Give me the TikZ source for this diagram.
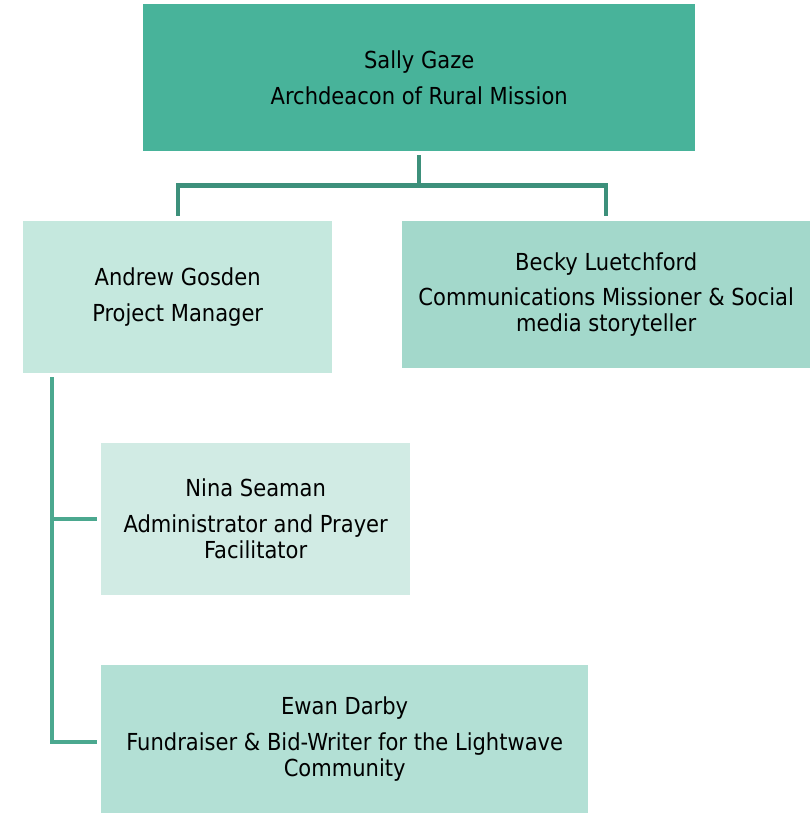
\documentclass[tikz,border=0pt]{standalone}
\usepackage{fontspec}
\setmainfont{DejaVu Sans Condensed}
\usepackage{tikz}
\usepackage{xcolor}
\definecolor{leadteal}{HTML}{48B39A}
\definecolor{mintpale}{HTML}{C5E8DE}
\definecolor{mintmid}{HTML}{A3D8CB}
\definecolor{mintlight}{HTML}{D1EBE4}
\definecolor{mintsoft}{HTML}{B3E0D5}
\definecolor{linkdark}{HTML}{3D907B}
\definecolor{linklight}{HTML}{4BA88F}

\begin{document}
\begin{tikzpicture}[x=1pt, y=-1pt,
  every node/.style = {shape=rectangle, anchor=north west, inner sep=0pt,
    align=center, font=\fontsize{23.4}{26}\selectfont},
  link/.style = {line width=4.2pt, color=linkdark},
  sublink/.style = {line width=4.2pt, color=linklight}]
  \useasboundingbox (0,0) rectangle (810,814);
  \node[fill=leadteal, minimum width=552pt, minimum height=147pt] (sally) at (143,4)
    {Sally Gaze \\[10pt] Archdeacon of Rural Mission};
  \node[fill=mintpale, minimum width=309pt, minimum height=152pt] (andrew) at (23,221)
    {Andrew Gosden \\[10pt] Project Manager};
  \node[fill=mintmid, minimum width=408pt, minimum height=147pt] (becky) at (402,221)
    {Becky Luetchford \\[9pt] Communications Missioner \& Social \\ media storyteller};
  \node[fill=mintlight, minimum width=309pt, minimum height=152pt] (nina) at (101,443)
    {Nina Seaman \\[10pt] Administrator and Prayer \\ Facilitator};
  \node[fill=mintsoft, minimum width=487pt, minimum height=148pt] (ewan) at (101,665)
    {Ewan Darby \\[10pt] Fundraiser \& Bid-Writer for the Lightwave \\ Community};
  \draw[link, shorten <=4pt, shorten >=5pt] (sally.south) -- ++(0,34) -| (andrew.north);
  \draw[link, shorten <=4pt, shorten >=5pt] (sally.south) -- ++(0,34) -| (becky.north);
  \draw[sublink, shorten <=4pt, shorten >=4pt] ([xshift=29pt]andrew.south west) |- (nina.west);
  \draw[sublink, shorten <=4pt, shorten >=4pt] ([xshift=29pt]andrew.south west) |- ([yshift=-3pt]ewan.west);
\end{tikzpicture}
\end{document}
